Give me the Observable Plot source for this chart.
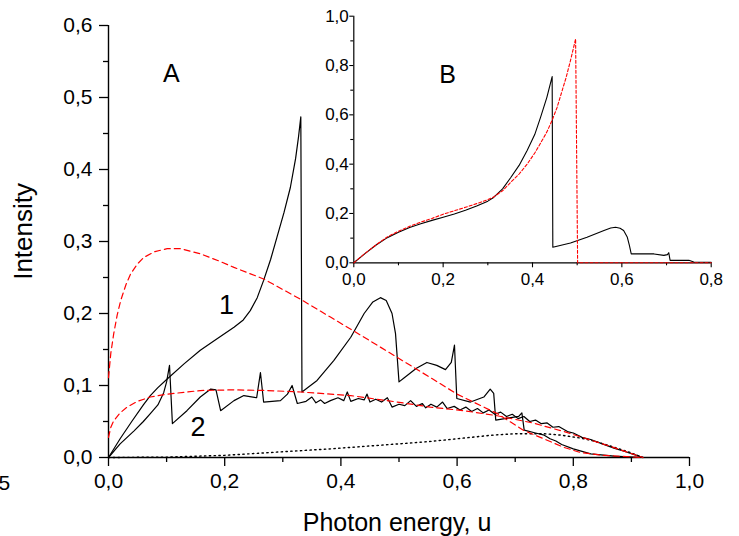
<!DOCTYPE html>
<html><head><meta charset="utf-8">
<script src="https://cdn.jsdelivr.net/npm/d3@7"></script>
<script src="https://cdn.jsdelivr.net/npm/@observablehq/plot@0.6"></script>
<style>
body{margin:0;background:#fff;}
#wrap{position:relative;width:739px;height:536px;overflow:hidden;}
#inset{position:absolute;left:315px;top:0;}
svg{max-width:none !important;}
</style></head><body>
<div id="wrap"><div id="main"></div><div id="inset"></div></div>
<script>
// ---- Panel A data (photon energy u, intensity) ----
const curve1 = [[0,0],[0.02,0.026],[0.04,0.05],[0.06,0.073],[0.072,0.086],[0.085,0.097],[0.101,0.109],[0.13,0.13],[0.158,0.149],[0.185,0.164],[0.216,0.181],[0.232,0.191],[0.244,0.204],[0.256,0.222],[0.267,0.246],[0.279,0.275],[0.29,0.306],[0.302,0.34],[0.313,0.375],[0.322,0.415],[0.327,0.445],[0.331,0.473],[0.333,0.091],[0.359,0.107],[0.388,0.135],[0.417,0.167],[0.44,0.2],[0.455,0.216],[0.468,0.222],[0.478,0.218],[0.488,0.2],[0.494,0.172],[0.5,0.105],[0.508,0.11],[0.53,0.124],[0.548,0.132],[0.565,0.128],[0.58,0.122],[0.59,0.132],[0.5955,0.156],[0.5995,0.082],[0.623,0.077],[0.646,0.084],[0.657,0.095],[0.663,0.089],[0.6665,0.052],[0.69,0.055],[0.706,0.057],[0.7115,0.062],[0.7155,0.038],[0.735,0.034],[0.75,0.031],[0.76,0.026],[0.77,0.023],[0.78,0.018],[0.8,0.012],[0.83,0.005],[0.87,0.002],[0.92,0]];
const curve2 = [[0,0],[0.02,0.019],[0.044,0.037],[0.06,0.05],[0.072,0.061],[0.085,0.073],[0.095,0.09],[0.1,0.105],[0.105,0.128],[0.11,0.047],[0.135,0.065],[0.158,0.084],[0.176,0.095],[0.185,0.094],[0.193,0.065],[0.216,0.079],[0.233,0.086],[0.255,0.083],[0.2615,0.118],[0.267,0.077],[0.296,0.079],[0.308,0.088],[0.316,0.1],[0.325,0.075],[0.34,0.078],[0.35,0.084],[0.357,0.076],[0.365,0.08],[0.372,0.075],[0.382,0.079],[0.395,0.083],[0.405,0.079],[0.411,0.091],[0.417,0.078],[0.43,0.082],[0.44,0.08],[0.445,0.088],[0.45,0.077],[0.46,0.081],[0.47,0.077],[0.48,0.083],[0.488,0.07],[0.5,0.074],[0.51,0.072],[0.52,0.079],[0.53,0.071],[0.54,0.075],[0.546,0.069],[0.555,0.074],[0.565,0.07],[0.575,0.077],[0.583,0.068],[0.595,0.071],[0.605,0.066],[0.615,0.07],[0.625,0.064],[0.635,0.068],[0.645,0.062],[0.655,0.066],[0.665,0.06],[0.675,0.063],[0.685,0.057],[0.695,0.06],[0.705,0.054],[0.715,0.057],[0.725,0.05],[0.735,0.052],[0.745,0.047],[0.755,0.048],[0.765,0.042],[0.775,0.043],[0.79,0.036],[0.8,0.034],[0.815,0.028],[0.83,0.025],[0.85,0.019],[0.87,0.013],[0.89,0.008],[0.905,0.004],[0.92,0]];
const fit1 = [[0,0.111],[0.004,0.145],[0.009,0.172],[0.015,0.198],[0.021,0.218],[0.03,0.24],[0.038,0.255],[0.05,0.269],[0.061,0.278],[0.08,0.286],[0.101,0.29],[0.124,0.29],[0.158,0.283],[0.19,0.273],[0.216,0.264],[0.267,0.248],[0.33,0.22],[0.382,0.195],[0.44,0.167],[0.497,0.139],[0.554,0.111],[0.6,0.088],[0.669,0.061],[0.715,0.0375],[0.755,0.024],[0.784,0.014],[0.812,0.007],[0.85,0.003],[0.92,0]];
const fit2 = [[0,0.028],[0.004,0.042],[0.009,0.051],[0.02,0.062],[0.032,0.07],[0.05,0.078],[0.072,0.084],[0.101,0.088],[0.158,0.093],[0.216,0.094],[0.273,0.093],[0.331,0.091],[0.382,0.088],[0.417,0.086],[0.497,0.077],[0.554,0.07],[0.612,0.065],[0.669,0.058],[0.73,0.048],[0.784,0.036],[0.858,0.017],[0.92,0]];
const curve3 = [[0,0],[0.1,0.0005],[0.2,0.003],[0.3,0.008],[0.382,0.012],[0.45,0.016],[0.5,0.019],[0.55,0.022],[0.612,0.027],[0.66,0.031],[0.7,0.033],[0.75,0.033],[0.78,0.031],[0.812,0.027],[0.83,0.024],[0.86,0.017],[0.898,0.007],[0.92,0]];
const xTicksA = [0, 0.2, 0.4, 0.6, 0.8, 1.0];
const xMinorA = [0.1, 0.3, 0.5, 0.7, 0.9];
const yTicksA = [0, 0.1, 0.2, 0.3, 0.4, 0.5, 0.6];
const yMinorA = [0.05, 0.15, 0.25, 0.35, 0.45, 0.55];

// ---- Panel B data ----
const insetCurve = [[0,0],[0.025,0.037],[0.05,0.072],[0.075,0.102],[0.1,0.124],[0.125,0.143],[0.15,0.158],[0.175,0.172],[0.2,0.185],[0.225,0.198],[0.25,0.213],[0.275,0.23],[0.3,0.25],[0.313,0.265],[0.333,0.3],[0.351,0.345],[0.37,0.395],[0.388,0.455],[0.405,0.52],[0.418,0.59],[0.432,0.67],[0.444,0.755],[0.4455,0.063],[0.485,0.08],[0.522,0.104],[0.56,0.131],[0.575,0.141],[0.586,0.144],[0.596,0.14],[0.604,0.131],[0.612,0.105],[0.617,0.07],[0.621,0.036],[0.672,0.036],[0.694,0.03],[0.702,0.033],[0.705,0.041],[0.708,0.01],[0.75,0.01],[0.761,0.003],[0.8,0.002]];
const insetFit = [[0,0],[0.025,0.038],[0.05,0.073],[0.075,0.105],[0.1,0.128],[0.125,0.148],[0.15,0.165],[0.175,0.18],[0.2,0.197],[0.225,0.211],[0.25,0.225],[0.275,0.24],[0.3,0.256],[0.313,0.267],[0.333,0.292],[0.351,0.326],[0.37,0.36],[0.388,0.4],[0.405,0.445],[0.418,0.485],[0.432,0.53],[0.444,0.578],[0.455,0.63],[0.465,0.69],[0.475,0.75],[0.485,0.82],[0.4965,0.908],[0.501,0],[0.8,0]];
const xTicksB = [0, 0.2, 0.4, 0.6, 0.8];
const xMinorB = [0.1, 0.3, 0.5, 0.7];
const yTicksB = [0, 0.2, 0.4, 0.6, 0.8, 1.0];
const yMinorB = [0.1, 0.3, 0.5, 0.7, 0.9];

const fmt = d => d3.format(".1f")(d).replace(".", ",");
const none = () => "";
const font = "'Liberation Sans', Arial, sans-serif";
const X = d => d[0], Y = d => d[1];

const main = Plot.plot({
  width: 739, height: 536,
  marginLeft: 108, marginRight: 50, marginTop: 25, marginBottom: 79,
  x: {domain: [0, 1]}, y: {domain: [0, 0.6]},
  style: {fontFamily: font, color: "black", background: "white", overflow: "visible"},
  marks: [
    Plot.axisX(xTicksA, {anchor: "bottom", tickSize: 9, tickPadding: 7, tickFormat: fmt, fontSize: 21, strokeWidth: 1.3, label: null}),
    Plot.axisX(xMinorA, {anchor: "bottom", tickSize: 5, tickFormat: none, strokeWidth: 1.3, label: null}),
    Plot.axisY(yTicksA, {anchor: "left", tickSize: 9, tickPadding: 7, tickFormat: fmt, fontSize: 21, strokeWidth: 1.3, label: null}),
    Plot.axisY(yMinorA, {anchor: "left", tickSize: 5, tickFormat: none, strokeWidth: 1.3, label: null}),
    Plot.ruleY([0], {x1: 0, x2: 1, strokeWidth: 1.4}),
    Plot.ruleX([0], {y1: 0, y2: 0.6, strokeWidth: 1.4}),
    Plot.line(curve3, {x: X, y: Y, stroke: "black", strokeWidth: 1.4, strokeDasharray: "1.4,3.4"}),
    Plot.line(curve1, {x: X, y: Y, stroke: "black", strokeWidth: 1.2}),
    Plot.line(curve2, {x: X, y: Y, stroke: "black", strokeWidth: 1.2}),
    Plot.line(fit1, {x: X, y: Y, stroke: "#ff0000", strokeWidth: 1.2, strokeDasharray: "6,4"}),
    Plot.line(fit2, {x: X, y: Y, stroke: "#ff0000", strokeWidth: 1.2, strokeDasharray: "6,4"}),
    Plot.text(["A"], {x: [0.108], y: [0.532], fontSize: 25, lineAnchor: "middle"}),
    Plot.text(["1"], {x: [0.203], y: [0.211], fontSize: 27, lineAnchor: "middle"}),
    Plot.text(["2"], {x: [0.154], y: [0.042], fontSize: 27, lineAnchor: "middle"}),
    Plot.text(["5"], {x: [-0.169], y: [-0.036], fontSize: 21, textAnchor: "end", lineAnchor: "middle"}),
    Plot.text(["Photon energy, u"], {frameAnchor: "bottom", dx: -2, dy: 65, fontSize: 25, lineAnchor: "middle"}),
    Plot.text(["Intensity"], {x: [-0.146], y: [0.314], rotate: -90, fontSize: 26, lineAnchor: "middle"})
  ]
});
document.getElementById("main").appendChild(main);

const inset = Plot.plot({
  width: 410, height: 300,
  marginLeft: 38.3, marginRight: 14.3, marginTop: 15.7, marginBottom: 37.7,
  x: {domain: [0, 0.8]}, y: {domain: [0, 1]},
  style: {fontFamily: font, color: "black", background: "transparent", overflow: "visible"},
  marks: [
    Plot.axisX(xTicksB, {anchor: "bottom", tickSize: 5, tickPadding: 5, tickFormat: fmt, fontSize: 17, strokeWidth: 1.1, label: null}),
    Plot.axisX(xMinorB, {anchor: "bottom", tickSize: 3, tickFormat: none, strokeWidth: 1.1, label: null}),
    Plot.axisY(yTicksB, {anchor: "left", tickSize: 4, tickPadding: 1, tickFormat: fmt, fontSize: 17, strokeWidth: 1.1, label: null}),
    Plot.axisY(yMinorB, {anchor: "left", tickSize: 3, tickFormat: none, strokeWidth: 1.1, label: null}),
    Plot.ruleY([0], {x1: 0, x2: 0.8, strokeWidth: 1.2}),
    Plot.ruleX([0], {y1: 0, y2: 1, strokeWidth: 1.2}),
    Plot.line(insetCurve, {x: X, y: Y, stroke: "black", strokeWidth: 1.1}),
    Plot.line(insetFit, {x: X, y: Y, stroke: "#ff0000", strokeWidth: 1.1, strokeDasharray: "3,2"}),
    Plot.text(["B"], {x: [0.21], y: [0.761], fontSize: 25, lineAnchor: "middle"})
  ]
});
document.getElementById("inset").appendChild(inset);
</script>
</body></html>
